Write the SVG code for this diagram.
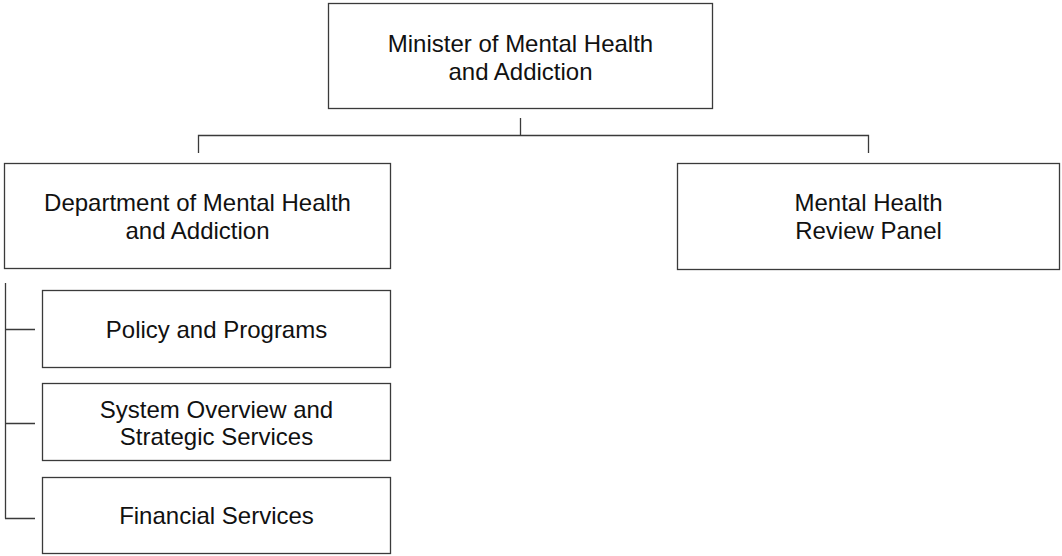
<svg xmlns="http://www.w3.org/2000/svg" width="1062" height="556" viewBox="0 0 1062 556">
<style>
.box{fill:#fff;stroke:#3a3a3a;stroke-width:1.3}
.t{font-family:"Liberation Sans",Arial,sans-serif;font-size:24px;fill:#111;text-anchor:middle}
.c{fill:none;stroke:#3a3a3a;stroke-width:1.3}
</style>
<rect width="1062" height="556" fill="#fff"/>
<g id="connectors">
<path class="c" d="M520.5 118V135.5M198.5 153V135.5H868.5V153"/>
<path class="c" d="M5.5 283V518.5M5 329.5H35M5 423.5H35M5 518.5H35"/>
</g>
<g id="minister"><rect class="box" x="328.5" y="3.5" width="384" height="105"/><text class="t" x="520.5" y="52">Minister of Mental Health</text><text class="t" x="520.5" y="80">and Addiction</text></g>
<g id="department"><rect class="box" x="4.5" y="163.5" width="386" height="105"/><text class="t" x="197.5" y="211">Department of Mental Health</text><text class="t" x="197.5" y="239">and Addiction</text></g>
<g id="review"><rect class="box" x="677.5" y="163.5" width="382" height="106"/><text class="t" x="868.5" y="211">Mental Health</text><text class="t" x="868.5" y="239">Review Panel</text></g>
<g id="policy"><rect class="box" x="42.5" y="290.5" width="348" height="77"/><text class="t" x="216.5" y="338">Policy and Programs</text></g>
<g id="system"><rect class="box" x="42.5" y="383.5" width="348" height="77"/><text class="t" x="216.5" y="418">System Overview and</text><text class="t" x="216.5" y="445">Strategic Services</text></g>
<g id="financial"><rect class="box" x="42.5" y="477.5" width="348" height="76"/><text class="t" x="216.5" y="524">Financial Services</text></g>
</svg>
